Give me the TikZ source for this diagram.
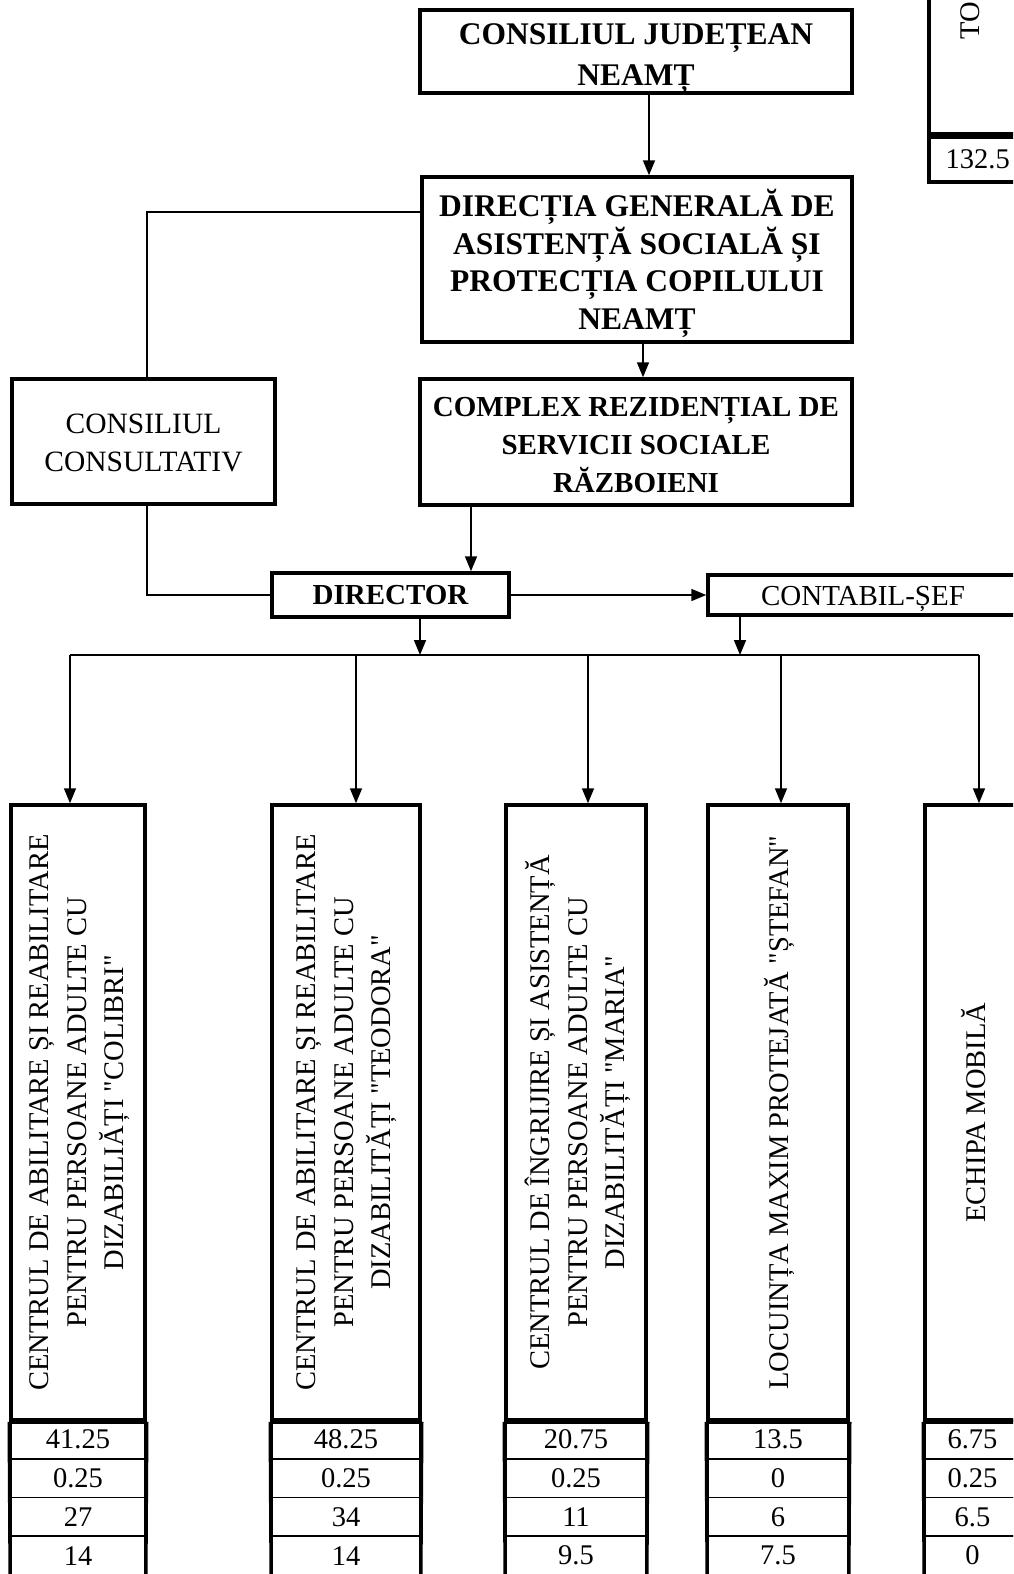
\documentclass[tikz,border=0pt]{standalone}
\usepackage{fontspec}
\setmainfont{Liberation Serif}[Ligatures=TeXOff]
\usetikzlibrary{arrows.meta}
\newcommand\cjfont{\fontsize{31.5}{41}\selectfont\bfseries}
\newcommand\dgfont{\fontsize{31.5}{37.7}\selectfont\bfseries}
\newcommand\bbfont{\fontsize{29}{38}\selectfont\bfseries}
\newcommand\rrfont{\fontsize{28.5}{37.5}\selectfont}
\newcommand\ccfont{\fontsize{29.5}{38}\selectfont}
\begin{document}
\begin{tikzpicture}[x=1pt,y=-1pt,
  box/.style={draw, rectangle, line width=3.5pt, inner sep=0pt, align=center},
  txt/.style={inner sep=0pt, align=center},
  cell/.style={draw, rectangle, line width=1.6pt, inner sep=0pt, minimum height=38.75, font=\rrfont},
  side/.style={line width=3.5pt},
  conn/.style={line width=1.6pt},
  arr/.style={conn, -{Triangle[length=15pt,width=12pt]}},
  rtxt/.style={rotate=90, align=center, font=\rrfont, inner sep=0pt}]
\useasboundingbox (0,0) rectangle (1013,1574);
\clip (0,0) rectangle (1013,1574);

% upper boxes
\node[box, minimum width=432, minimum height=83] (cj) at (636,51.5) {};
\node[txt, font=\cjfont] (cjt) at ([yshift=-7]cj.center) {CONSILIUL JUDEȚEAN\\NEAMȚ};
\node[box, minimum width=430, minimum height=165] (dg) at (637,259.5) {};
\node[txt, font=\dgfont] (dgt) at ([yshift=-4]dg.center) {DIRECȚIA GENERALĂ DE\\ASISTENȚĂ SOCIALĂ ȘI\\PROTECȚIA COPILULUI\\NEAMȚ};
\node[box, minimum width=263, minimum height=125] (cc) at (143.5,441.5) {};
\node[txt, font=\ccfont] (cct) at ([yshift=-1]cc.center) {CONSILIUL\\CONSULTATIV};
\node[box, minimum width=432, minimum height=126] (cx) at (636,442) {};
\node[txt, font=\bbfont] (cxt) at ([yshift=-3]cx.center) {COMPLEX REZIDENȚIAL DE\\SERVICII SOCIALE\\RĂZBOIENI};
\node[box, font=\bbfont, minimum width=237, minimum height=44] (dir) at (390.5,595) {DIRECTOR};
\node[box, minimum width=310, minimum height=40] (cs) at (863,595) {};
\node[txt, font=\fontsize{29}{36}\selectfont] (cst) at ([yshift=-4]cs.center) {CONTABIL-ȘEF};

% top-right total box
\node[box, minimum width=98, minimum height=170, anchor=south west] (tot) at (927,135.5) {};
\node[box, font=\rrfont, minimum width=98, minimum height=44.5, anchor=north west] (totv) at (tot.south west) {132.5};
\node[rotate=90, anchor=west, font=\rrfont, inner sep=0pt] (tott) at (970,40) {TO};

% lower columns
\foreach \n/\l/\r/\a/\b/\c/\d in {c1/11/145/41.25/0.25/27/14, c2/272/420/48.25/0.25/34/14, c3/506/646/20.75/0.25/11/9.5, c4/708/848/13.5/0/6/7.5, c5/925/1020/6.75/0.25/6.5/0} {
  \node[box, minimum width={\r-\l}, minimum height=615] (\n) at ({(\l+\r)/2},1112.5) {};
  \node[cell, minimum width={\r-\l}] (\n-1) at ({(\l+\r)/2},1439.375) {\a};
  \node[cell, minimum width={\r-\l}] (\n-2) at ({(\l+\r)/2},1478.125) {\b};
  \node[cell, minimum width={\r-\l}] (\n-3) at ({(\l+\r)/2},1516.875) {\c};
  \node[cell, minimum width={\r-\l}] (\n-4) at ({(\l+\r)/2},1555.625) {\d};
  \draw[side] (\n.south west) -- (\n-4.south west);
  \draw[side] (\n.south east) -- (\n-4.south east);
  \draw[side] (\n.south west) -- (\n.south east);
}
\node[rtxt] (c1t) at ([xshift=2]c1.center) {CENTRUL DE ABILITARE ȘI REABILITARE\\PENTRU PERSOANE ADULTE CU\\DIZABILIĂȚI "COLIBRI"};
\node[rtxt] (c2t) at ([xshift=1]c2.center) {CENTRUL DE ABILITARE ȘI REABILITARE\\PENTRU PERSOANE ADULTE CU\\DIZABILITĂȚI "TEODORA"};
\node[rtxt] (c3t) at ([xshift=2]c3.center) {CENTRUL DE ÎNGRIJIRE ȘI ASISTENȚĂ\\PENTRU PERSOANE ADULTE CU\\DIZABILITĂȚI "MARIA"};
\node[rtxt] (c4t) at ([xshift=1]c4.center) {LOCUINȚA MAXIM PROTEJATĂ "ȘTEFAN"};
\node[rtxt] (c5t) at ([xshift=1]c5.center) {ECHIPA MOBILĂ};

% connectors
\path ([xshift=13]cj.south) coordinate (p1);
\draw[arr] (p1) -- (p1 |- dg.north);
\draw[conn] ([yshift=47.5]dg.west) -| ([xshift=3.5]cc.north);
\path ([xshift=6]dg.south) coordinate (p3);
\draw[arr] (p3) -- (p3 |- cx.north);
\path ([xshift=-165]cx.south) coordinate (p4);
\draw[arr] (p4) -- (p4 |- dir.north);
\draw[conn] ([xshift=3.5]cc.south) |- (dir.west);
\draw[arr] (dir.east) -- (dir.east -| cs.west);

\coordinate (busL) at (70,655);
\coordinate (b2) at (356,655);
\coordinate (b3) at (588,655);
\coordinate (b4) at (781,655);
\coordinate (busR) at (979,655);
\draw[conn] (busL) -- (busR);
\path ([xshift=29.5]dir.south) coordinate (p7);
\draw[arr] (p7) -- (p7 |- busL);
\path ([xshift=-123]cs.south) coordinate (p8);
\draw[arr] (p8) -- (p8 |- busL);

\draw[arr] (busL) -- (busL |- c1.north);
\draw[arr] (b2) -- (b2 |- c2.north);
\draw[arr] (b3) -- (b3 |- c3.north);
\draw[arr] (b4) -- (b4 |- c4.north);
\draw[arr] (busR) -- (busR |- c5.north);
\end{tikzpicture}
\end{document}
